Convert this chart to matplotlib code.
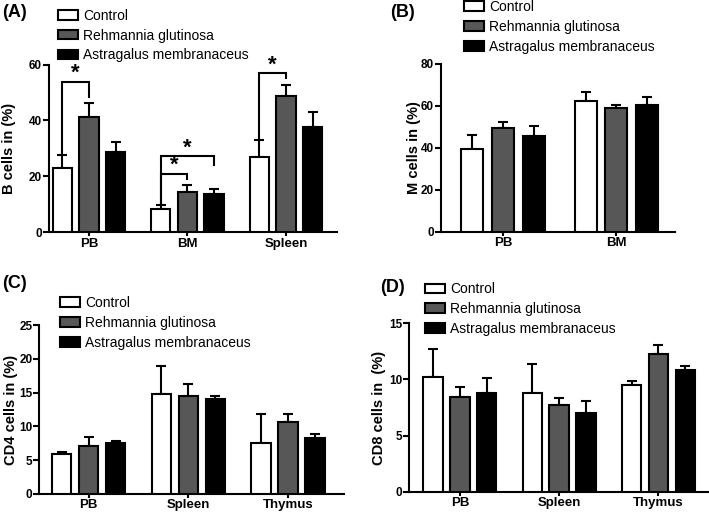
"""
Recreation of a four-panel grouped bar chart (B, M, CD4, CD8 cells).
"""

import numpy as np
import matplotlib
matplotlib.use("Agg")
import matplotlib.pyplot as plt

plt.rcParams['font.family'] = ['Liberation Sans', 'DejaVu Sans']

# ---- data -------------------------------------------------------------
groups = ["Control", "Rehmannia glutinosa", "Astragalus membranaceus"]
bar_colors = ["white", "#575757", "black"]

# Panel A: B cells
a_cats = ["PB", "BM", "Spleen"]
a_ctrl = [23.1, 8.2, 26.9]
a_rehm = [41.1, 14.3, 48.9]
a_astr = [28.8, 13.7, 37.5]
a_ctrl_err = [4.4, 1.4, 6.0]
a_rehm_err = [5.1, 2.5, 3.7]
a_astr_err = [3.6, 1.8, 5.4]
a_ticks = [0, 20, 40, 60]
# (category, bar i, bar j, bracket level, right-leg drop)
a_brackets = [(0, 0, 1, 53.8, 5.3), (1, 0, 2, 27.2, 3.2),
              (1, 0, 1, 20.9, 1.8), (2, 0, 1, 56.9, 1.5)]

# Panel B: M cells
b_cats = ["PB", "BM"]
b_ctrl = [39.3, 62.5]
b_rehm = [49.6, 59.0]
b_astr = [45.5, 60.6]
b_ctrl_err = [6.6, 4.0]
b_rehm_err = [2.7, 1.6]
b_astr_err = [4.7, 3.5]
b_ticks = [0, 20, 40, 60, 80]

# Panel C: CD4 cells
c_cats = ["PB", "Spleen", "Thymus"]
c_ctrl = [5.9, 14.8, 7.5]
c_rehm = [7.1, 14.5, 10.7]
c_astr = [7.5, 14.0, 8.2]
c_ctrl_err = [0.35, 4.2, 4.3]
c_rehm_err = [1.3, 1.8, 1.2]
c_astr_err = [0.3, 0.5, 0.7]
c_ticks = [0, 5, 10, 15, 20, 25]

# Panel D: CD8 cells
d_cats = ["PB", "Spleen", "Thymus"]
d_ctrl = [10.25, 8.75, 9.5]
d_rehm = [8.4, 7.7, 12.27]
d_astr = [8.76, 6.98, 10.87]
d_ctrl_err = [2.5, 2.6, 0.33]
d_rehm_err = [0.95, 0.65, 0.83]
d_astr_err = [1.4, 1.07, 0.36]
d_ticks = [0, 5, 10, 15]

OFFSETS = [-0.27, 0.0, 0.27]
WIDTH = 0.195


def draw_panel(ax, cats, series, errs, ticks, ylabel, xlim):
    x = np.arange(len(cats))
    handles = []
    for k, (vals, err) in enumerate(zip(series, errs)):
        xs = x + OFFSETS[k]
        h = ax.bar(xs, vals, WIDTH, color=bar_colors[k], edgecolor="black",
                   linewidth=1.5, zorder=3, label=groups[k])
        ax.errorbar(xs, vals, yerr=[np.zeros(len(vals)), err], fmt="none",
                    ecolor="black", elinewidth=1.5, capsize=3.6,
                    capthick=1.5, zorder=2)
        handles.append(h)
    ax.set_xlim(*xlim)
    ax.set_ylim(ticks[0], ticks[-1])
    ax.set_yticks(ticks)
    ax.set_xticks(x)
    ax.set_xticklabels(cats, fontsize=9.5, fontweight="bold")
    for lab in ax.get_yticklabels():
        lab.set_fontweight("bold")
        lab.set_fontsize(8.5)
    ax.tick_params(axis="y", length=4, width=1.5, pad=1)
    ax.tick_params(axis="x", length=3, width=1.5, pad=1)
    for side in ["top", "right"]:
        ax.spines[side].set_visible(False)
    for side in ["left", "bottom"]:
        ax.spines[side].set_linewidth(1.5)
    ax.set_ylabel(ylabel, fontsize=10.5, fontweight="bold")
    return handles


fig = plt.figure(figsize=(7.09, 5.14), dpi=100)

ax_a = fig.add_axes([0.0691, 0.5486, 0.4062, 0.3255])
ax_b = fig.add_axes([0.6216, 0.5492, 0.3305, 0.3263])
ax_c = fig.add_axes([0.0554, 0.0395, 0.4298, 0.3276])
ax_d = fig.add_axes([0.5773, 0.0434, 0.4213, 0.3276])

h = draw_panel(ax_a, a_cats, [a_ctrl, a_rehm, a_astr],
               [a_ctrl_err, a_rehm_err, a_astr_err], a_ticks,
               "B cells in (%)", (-0.406, 2.518))
draw_panel(ax_b, b_cats, [b_ctrl, b_rehm, b_astr],
           [b_ctrl_err, b_rehm_err, b_astr_err], b_ticks,
           "M cells in (%)", (-0.55, 1.52))
draw_panel(ax_c, c_cats, [c_ctrl, c_rehm, c_astr],
           [c_ctrl_err, c_rehm_err, c_astr_err], c_ticks,
           "CD4 cells in (%)", (-0.495, 2.56))
draw_panel(ax_d, d_cats, [d_ctrl, d_rehm, d_astr],
           [d_ctrl_err, d_rehm_err, d_astr_err], d_ticks,
           "CD8 cells in  (%)", (-0.51, 2.5))

ax_a.yaxis.set_label_coords(-0.115, 0.5)
ax_b.yaxis.set_label_coords(-0.085, 0.5)
ax_c.yaxis.set_label_coords(-0.07, 0.5)
ax_d.yaxis.set_label_coords(-0.078, 0.5)

# significance brackets in panel A
a_series = [a_ctrl, a_rehm, a_astr]
a_errs = [a_ctrl_err, a_rehm_err, a_astr_err]
for cat, i, j, level, drop in a_brackets:
    x0 = cat + OFFSETS[i]
    x1 = cat + OFFSETS[j]
    y0 = a_series[i][cat] + a_errs[i][cat]
    ax_a.plot([x0, x0, x1, x1], [y0, level, level, level - drop],
              color="black", lw=1.5, zorder=4, solid_joinstyle="miter")
    ax_a.text((x0 + x1) / 2, level + 3.0, "*", ha="center", va="center",
              fontsize=16, fontweight="bold")

# legends
legend_pos = [(0.0822, 0.983), (0.6549, 1.0), (0.0846, 0.424), (0.5994, 0.451)]
for lx, ly in legend_pos:
    fig.legend(handles=h, labels=groups, loc="upper left",
               bbox_to_anchor=(lx, ly), frameon=False, fontsize=10,
               handlelength=1.44, handleheight=0.68, handletextpad=0.36,
               labelspacing=0.42, borderpad=0, borderaxespad=0)

# panel letters
for txt, px, py in [("(A)", 0.003, 0.975), ("(B)", 0.55, 0.975),
                    ("(C)", 0.003, 0.449), ("(D)", 0.536, 0.4407)]:
    fig.text(px, py, txt, fontsize=13, fontweight="bold", ha="left", va="center")

fig.savefig("out.png", dpi=100)
